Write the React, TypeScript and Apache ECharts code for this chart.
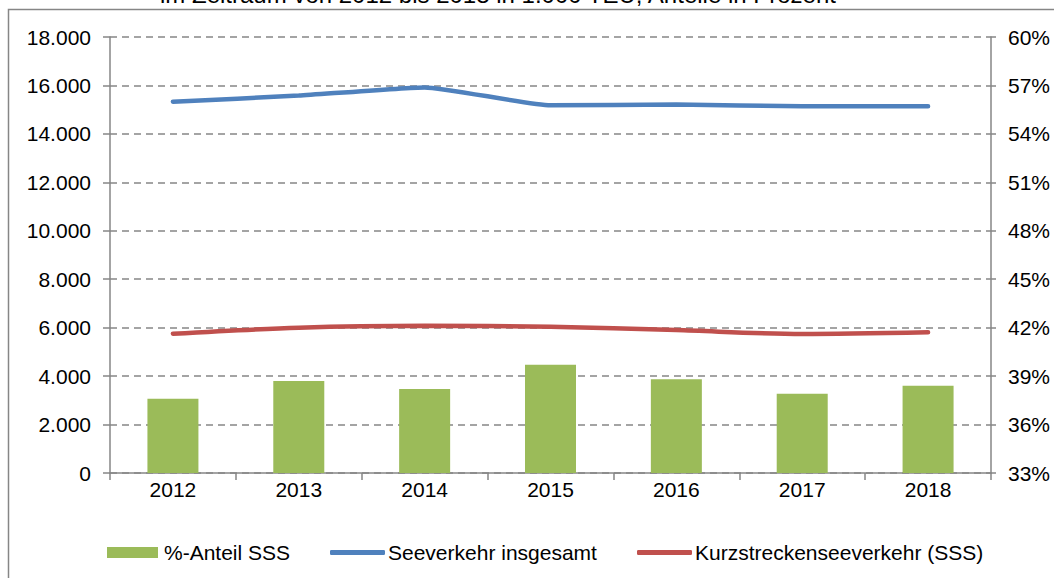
import React, { useEffect, useRef } from "react";
import * as echarts from "echarts";

const years = ["2012", "2013", "2014", "2015", "2016", "2017", "2018"];
const shareSSS = [37.6, 38.7, 38.2, 39.7, 38.8, 37.9, 38.4];
const seaTotal = [15330, 15580, 15920, 15180, 15210, 15140, 15140];
const shortSea = [5750, 6000, 6080, 6040, 5900, 5740, 5810];
const seriesNames = ["%-Anteil SSS", "Seeverkehr insgesamt", "Kurzstreckenseeverkehr (SSS)"];
const titleText = "im Zeitraum von 2012 bis 2018 in 1.000 TEU, Anteile in Prozent";

const FONT = "'Liberation Sans', Arial, sans-serif";
const GRAY = "#868686";
const FS = 21;

function fmtThousands(v: number): string {
  return String(v).replace(/\B(?=(\d{3})+(?!\d))/g, ".");
}

export default function App() {
  const ref = useRef<HTMLDivElement>(null);
  useEffect(() => {
    if (!ref.current) return;
    const chart = echarts.init(ref.current, null, { renderer: "svg" });
    const legendText = { fontFamily: FONT, fontSize: FS, color: "#000" };
    chart.setOption({
      animation: false,
      backgroundColor: "#fff",
      textStyle: { fontFamily: FONT },
      grid: { left: 110, right: 63, top: 37, bottom: 105, containLabel: false },
      graphic: [
        {
          type: "rect",
          shape: { x: 8.5, y: 9.5, width: 1100, height: 700 },
          style: { fill: "none", stroke: GRAY, lineWidth: 1.5 },
          silent: true,
        },
        {
          type: "text",
          x: 498,
          y: 6,
          style: {
            text: titleText,
            fontFamily: FONT,
            fontSize: 24,
            fill: "#000",
            textAlign: "center",
            textVerticalAlign: "bottom",
          },
        },
      ],
      legend: [
        {
          data: [{ name: seriesNames[0], icon: "rect" }],
          left: 102,
          top: 537,
          itemWidth: 51,
          itemHeight: 11,
          textStyle: { ...legendText, padding: [0, 0, 0, 1] },
        },
        {
          data: [{ name: seriesNames[1], icon: "roundRect" }],
          left: 325,
          top: 537,
          itemWidth: 55,
          itemHeight: 5,
          textStyle: { ...legendText, padding: [0, 0, 0, -2] },
        },
        {
          data: [{ name: seriesNames[2], icon: "roundRect" }],
          left: 632,
          top: 537,
          itemWidth: 55,
          itemHeight: 5,
          textStyle: { ...legendText, padding: [0, 0, 0, -2] },
        },
      ],
      xAxis: {
        type: "category",
        data: years,
        boundaryGap: true,
        axisLine: { lineStyle: { color: GRAY, width: 1.5 } },
        axisTick: { show: true, length: 7, lineStyle: { color: GRAY, width: 1.5 } },
        axisLabel: { fontFamily: FONT, fontSize: FS, color: "#000", margin: 6 },
      },
      yAxis: [
        {
          type: "value",
          min: 0,
          max: 18000,
          interval: 2000,
          position: "left",
          axisLine: { show: true, lineStyle: { color: GRAY, width: 1.5 } },
          axisTick: { show: true, length: 7, lineStyle: { color: GRAY, width: 1.5 } },
          axisLabel: {
            fontFamily: FONT,
            fontSize: FS,
            color: "#000",
            margin: 19,
            formatter: (v: number) => fmtThousands(v),
          },
          splitLine: { show: true, lineStyle: { color: GRAY, type: [7, 5], width: 1.5 } },
        },
        {
          type: "value",
          min: 33,
          max: 60,
          interval: 3,
          position: "right",
          axisLine: { show: true, lineStyle: { color: GRAY, width: 1.5 } },
          axisTick: { show: true, length: 5, lineStyle: { color: GRAY, width: 1.5 } },
          axisLabel: {
            fontFamily: FONT,
            fontSize: FS,
            color: "#000",
            margin: 17,
            formatter: (v: number) => v + "%",
          },
          splitLine: { show: false },
        },
      ],
      series: [
        {
          name: seriesNames[0],
          type: "bar",
          yAxisIndex: 1,
          data: shareSSS,
          barWidth: 51,
          itemStyle: { color: "#9BBB59" },
          z: 1,
        },
        {
          name: seriesNames[1],
          type: "line",
          yAxisIndex: 0,
          data: seaTotal,
          symbol: "none",
          smooth: 0.15,
          lineStyle: { color: "#4F81BD", width: 4.5, cap: "round" },
          itemStyle: { color: "#4F81BD" },
          z: 3,
        },
        {
          name: seriesNames[2],
          type: "line",
          yAxisIndex: 0,
          data: shortSea,
          symbol: "none",
          smooth: 0.3,
          lineStyle: { color: "#C0504D", width: 4.5, cap: "round" },
          itemStyle: { color: "#C0504D" },
          z: 3,
        },
      ],
    });
    return () => chart.dispose();
  }, []);
  return (
    <div
      ref={ref}
      style={{ position: "fixed", left: 0, top: 0, width: 1054, height: 578 }}
    />
  );
}
